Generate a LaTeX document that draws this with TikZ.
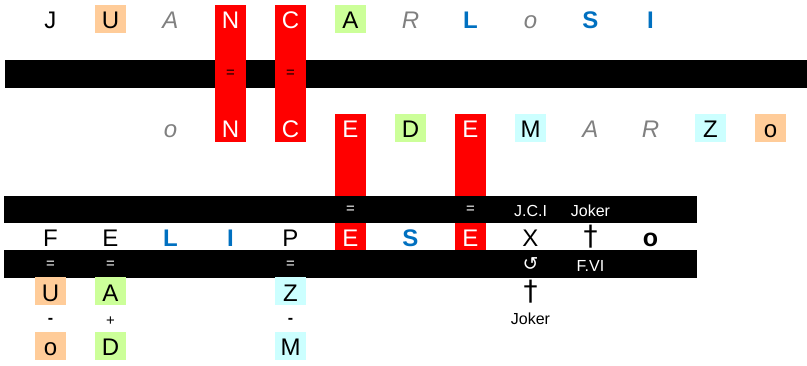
\documentclass[tikz,border=0pt]{standalone}
\usepackage{fontspec}
\setmainfont{Liberation Sans}
\newfontfamily\symfont{DejaVu Sans}
\definecolor{peach}{HTML}{FFCC99}
\definecolor{lime}{HTML}{CCFF99}
\definecolor{ice}{HTML}{CCFFFF}
\definecolor{royal}{HTML}{0070C0}
\tikzset{
  cell/.style={minimum width=31pt, minimum height=28pt, inner sep=0pt, text height=24pt, text depth=4pt, font=\fontsize{24}{27}\selectfont},
  faded/.style={cell, text=gray, font=\fontsize{24}{27}\selectfont\itshape},
  strong/.style={cell, text=royal, font=\fontsize{24}{27}\selectfont\bfseries},
  peachbox/.style={cell, fill=peach},
  limebox/.style={cell, fill=lime},
  icebox/.style={cell, fill=ice},
  redtext/.style={cell, text=white},
  dagger/.style={cell, text depth=5pt, text height=23pt, font=\symfont\fontsize{28}{30}\selectfont},
  redcol/.style={fill=red, minimum width=31pt, inner sep=0pt},
  bar/.style={fill=black, minimum height=28pt, inner sep=0pt},
  note/.style={font=\fontsize{16}{18}\selectfont, anchor=base, inner sep=0pt},
  sign/.style={font=\fontsize{15}{17}\selectfont, inner sep=0pt}
}
\begin{document}
\begin{tikzpicture}[x=1pt, y=-1pt]
\useasboundingbox (0,0) rectangle (807,366);
% bars and red columns
\node[bar, minimum width=802pt] (barA) at (406,74) {};
\node[redcol, minimum height=137pt] (colN) at (230.5,73.5) {};
\node[redcol, minimum height=137pt] (colC) at (290.5,73.5) {};
\node[redcol, minimum height=136pt] (colE) at (350.5,182) {};
\node[redcol, minimum height=136pt] (colF) at (470.5,182) {};
\node[bar, minimum width=693pt, minimum height=27pt] (barB) at (350.5,209.5) {};
\node[bar, minimum width=693pt] (barC) at (350.5,264) {};
% first name
\node[cell] (a0) at (50.5,19) {J};
\node[peachbox] (a1) at (110.5,19) {U};
\node[faded] (a2) at (170.5,19) {A};
\node[redtext] (a3) at (230.5,19) {N};
\node[redtext] (a4) at (290.5,19) {C};
\node[limebox] (a5) at (350.5,19) {A};
\node[faded] (a6) at (410.5,19) {R};
\node[strong] (a7) at (470.5,19) {L};
\node[faded] (a8) at (530.5,19) {o};
\node[strong] (a9) at (590.5,19) {S};
\node[strong] (a10) at (650.5,19) {I};
\node[sign] (eqN) at (230.5,74) {=};
\node[sign] (eqC) at (290.5,74) {=};
% second name
\node[faded] (b2) at (170.5,128) {o};
\node[redtext] (b3) at (230.5,128) {N};
\node[redtext] (b4) at (290.5,128) {C};
\node[redtext] (b5) at (350.5,128) {E};
\node[limebox] (b6) at (410.5,128) {D};
\node[redtext] (b7) at (470.5,128) {E};
\node[icebox] (b8) at (530.5,128) {M};
\node[faded] (b9) at (590.5,128) {A};
\node[faded] (b10) at (650.5,128) {R};
\node[icebox] (b11) at (710.5,128) {Z};
\node[peachbox] (b12) at (770.5,128) {o};
% upper bar labels
\node[sign, text=white] (eqE) at (350.5,210) {=};
\node[sign, text=white] (eqF) at (470.5,210) {=};
\node[note, text=white] (jci) at (530.5,217) {J.C.I};
\node[note, text=white] (jokerA) at (590.5,217) {Joker};
% third name
\node[cell] (c0) at (50.5,236.5) {F};
\node[cell] (c1) at (110.5,236.5) {E};
\node[strong] (c2) at (170.5,236.5) {L};
\node[strong] (c3) at (230.5,236.5) {I};
\node[cell] (c4) at (290.5,236.5) {P};
\node[redtext] (c5) at (350.5,236.5) {E};
\node[strong] (c6) at (410.5,236.5) {S};
\node[redtext] (c7) at (470.5,236.5) {E};
\node[cell] (c8) at (530.5,236.5) {X};
\node[dagger] (c9) at (590.5,236.5) {†};
\node[cell, font=\fontsize{25}{27}\selectfont\bfseries] (c10) at (650.5,236.5) {o};
% lower bar labels
\node[sign, text=white] (eqU) at (50.5,265) {=};
\node[sign, text=white] (eqA) at (110.5,265) {=};
\node[sign, text=white] (eqZ) at (290.5,265) {=};
\node[text=white, inner sep=0pt, font=\symfont\fontsize{19}{21}\selectfont] (turn) at (530.5,264) {↺};
\node[note, text=white] (fvi) at (590.5,272) {F.VI};
% below
\node[peachbox] (d0) at (50.5,291.5) {U};
\node[limebox] (d1) at (110.5,291.5) {A};
\node[icebox] (d4) at (290.5,291.5) {Z};
\node[dagger] (d8) at (530.5,291.5) {†};
\node[sign, font=\fontsize{16}{18}\selectfont\bfseries] (e0) at (50.5,321) {-};
\node[sign] (e1) at (110.5,321) {+};
\node[sign, font=\fontsize{16}{18}\selectfont\bfseries] (e4) at (290.5,321) {-};
\node[note] (jokerB) at (530.5,325) {Joker};
\node[peachbox] (f0) at (50.5,346) {o};
\node[limebox] (f1) at (110.5,346) {D};
\node[icebox] (f4) at (290.5,346) {M};
\end{tikzpicture}
\end{document}
